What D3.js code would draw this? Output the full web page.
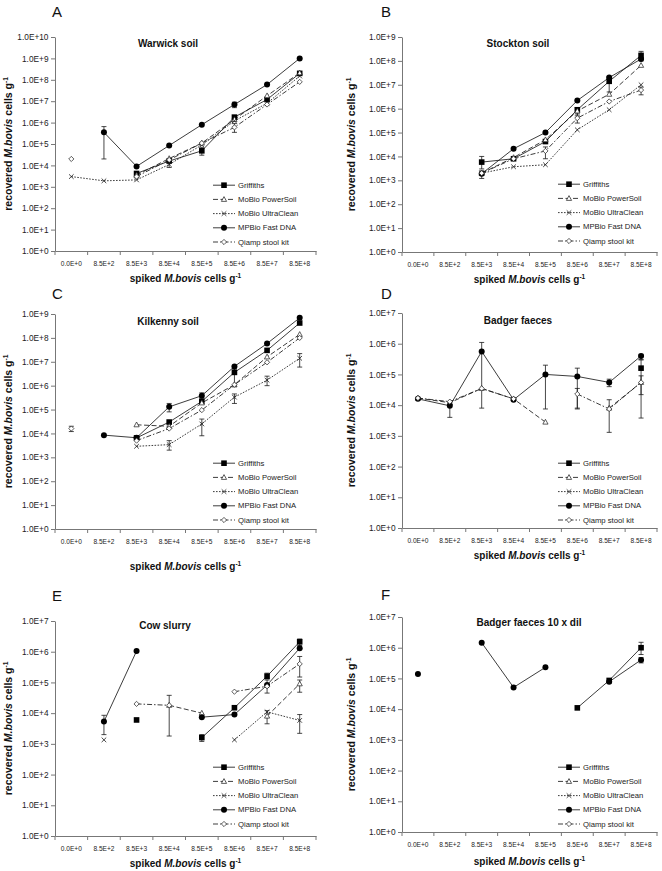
<!DOCTYPE html>
<html>
<head>
<meta charset="utf-8">
<script src="https://cdn.jsdelivr.net/npm/d3@7"></script>
<style>
  body { margin: 0; background: #fff; }
  svg { display: block; font-family: "Liberation Sans", Arial, sans-serif; }
</style>
</head>
<body>
<svg width="662" height="871"></svg>
<script>
// spiked amounts on the x axis (categories)
var categories = ['0.0E+0', '8.5E+2', '8.5E+3', '8.5E+4', '8.5E+5', '8.5E+6', '8.5E+7', '8.5E+8']
var seriesNames = ['Griffiths', 'MoBio PowerSoil', 'MoBio UltraClean', 'MPBio Fast DNA', 'Qiamp stool kit']

// A - Warwick soil
var warwickGriffiths = [null, null, 4.2e3, 1.6e4, 4.8e4, 1.8e6, 1.2e7, 2.0e8]
var warwickPowerSoil = [null, null, 3.5e3, 2.1e4, 1.1e5, 1.4e6, 1.8e7, 2.1e8]
var warwickUltraClean = [3.0e3, 1.9e3, 2.1e3, 1.1e4, 9.0e4, 1.2e6, 8.0e6, 1.5e8]
var warwickFastDNA = [null, 3.5e5, 9.0e3, 8.5e4, 8.0e5, 7.0e6, 6.0e7, 1.0e9]
var warwickQiamp = [2.0e4, null, 3.0e3, 1.8e4, 1.1e5, 6.0e5, 7.0e6, 8.0e7]
// error bars: [series, category, low, high]
var warwickErr = [[3, 1, 2e4, 6.5e5], [0, 4, 3e4, 7e4], [4, 5, 3.5e5, 9e5], [3, 5, 5e6, 9e6], [2, 3, 8e3, 1.4e4]]

// B - Stockton soil
var stocktonGriffiths = [null, null, 5.8e3, 8.0e3, 4.2e4, 9.0e5, 1.4e7, 1.7e8]
var stocktonPowerSoil = [null, null, 2.0e3, 9.0e3, 5.0e4, 8.0e5, 4.0e6, 6.5e7]
var stocktonUltraClean = [null, null, 2.0e3, 3.7e3, 4.5e3, 1.3e5, 9.0e5, 1.0e7]
var stocktonFastDNA = [null, null, 1.9e3, 2.1e4, 1.0e5, 2.2e6, 2.0e7, 1.2e8]
var stocktonQiamp = [null, null, 2.0e3, 8.0e3, 1.7e4, 4.0e5, 2.0e6, 6.0e6]
var stocktonErr = [[0, 2, 3e3, 1e4], [3, 2, 1.2e3, 2.5e3], [4, 4, 8e3, 2.5e4], [4, 5, 2.5e5, 6e5],
  [1, 5, 5e5, 1.1e6], [0, 6, 5e6, 2.2e7], [0, 7, 1e8, 2.5e8], [4, 7, 3.8e6, 8e6]]

// C - Kilkenny soil
var kilkennyGriffiths = [null, null, 6.5e3, 3.0e4, 2.2e5, 3.6e6, 3.0e7, 4.2e8]
var kilkennyPowerSoil = [null, null, 2.3e4, 2.0e4, 1.9e5, 1.1e6, 1.6e7, 1.4e8]
var kilkennyUltraClean = [null, null, 2.9e3, 3.4e3, 2.5e4, 3.3e5, 1.7e6, 1.4e7]
var kilkennyFastDNA = [null, 8.5e3, 6.6e3, 1.3e5, 3.8e5, 6.4e6, 5.8e7, 6.9e8]
var kilkennyQiamp = [1.6e4, null, 5.0e3, 1.6e4, 9.5e4, 1.1e6, 9.5e6, 1.0e8]
var kilkennyErr = [[4, 0, 1.2e4, 2e4], [2, 3, 2e3, 5e3], [3, 3, 8e4, 1.8e5], [2, 4, 8e3, 4e4],
  [3, 4, 3e5, 5e5], [2, 5, 1.8e5, 4.5e5], [0, 5, 9e5, 5e6], [2, 6, 1e6, 2.5e6], [2, 7, 6e6, 2.2e7]]

// D - Badger faeces
var badgerGriffiths = [null, null, null, null, null, null, null, 1.6e5]
var badgerPowerSoil = [1.7e4, 1.2e4, 3.5e4, 1.6e4, 2.8e3, null, 8.0e3, 5.5e4]
var badgerUltraClean = [null, null, null, null, null, null, null, null]
var badgerFastDNA = [1.6e4, 9.5e3, 5.6e5, 1.5e4, 1.0e5, 8.6e4, 5.5e4, 4.0e5]
var badgerQiamp = [1.7e4, 1.3e4, 3.5e4, 1.6e4, null, 2.3e4, 7.5e3, 5.5e4]
var badgerErr = [[3, 1, 4e3, 1.2e4], [3, 2, 8e3, 1.1e6], [3, 4, 7.5e3, 2e5], [3, 5, 7.5e3, 1.6e5],
  [4, 5, 8e3, 3.5e4], [3, 6, 4e4, 7e4], [4, 6, 1.3e3, 1.5e4], [3, 7, 3e5, 4.5e5],
  [0, 7, 2.2e4, 3e5], [4, 7, 3.8e3, 9e4]]

// E - Cow slurry
var cowGriffiths = [null, null, 6.0e3, null, 1.6e3, 1.5e4, 1.6e5, 2.1e6]
var cowPowerSoil = [null, null, null, 1.8e4, 1.0e4, null, 8.0e3, 9.0e4]
var cowUltraClean = [null, 1.35e3, null, null, null, 1.35e3, 1.1e4, 5.8e3]
var cowFastDNA = [null, 5.3e3, 1.05e6, null, 7.4e3, 9.0e3, 8.2e4, 1.3e6]
var cowQiamp = [null, null, 2.0e4, 1.8e4, null, 5.0e4, 7.5e4, 4.0e5]
var cowErr = [[3, 1, 2e3, 8.5e3], [4, 3, 1.8e3, 3.8e4], [0, 4, 1.2e3, 2e3], [0, 6, 1.3e5, 2e5],
  [3, 6, 4.5e4, 1.2e5], [1, 6, 4.5e3, 1.2e4], [0, 7, 1.6e6, 2.6e6], [4, 7, 1.5e5, 7e5],
  [1, 7, 4.8e4, 1.2e5], [2, 7, 2.2e3, 9e3]]

// F - Badger faeces 10 x dil
var dilGriffiths = [null, null, null, null, null, 1.1e4, 8.6e4, 1.0e6]
var dilPowerSoil = [null, null, null, null, null, null, null, null]
var dilUltraClean = [null, null, null, null, null, null, null, null]
var dilFastDNA = [1.4e5, null, 1.45e6, 5.1e4, 2.3e5, null, 7.8e4, 4.0e5]
var dilQiamp = [null, null, null, null, null, null, null, null]
var dilErr = [[0, 7, 6e5, 1.5e6], [3, 7, 3.2e5, 4.8e5]]

var svg = d3.select('svg')

var panels = [
  {letter: 'A', title: 'Warwick soil', err: warwickErr, maxExp: 10,
    series: [warwickGriffiths, warwickPowerSoil, warwickUltraClean, warwickFastDNA, warwickQiamp],
    x0: 55, x1: 316, y0: 37, y1: 251, lx: 52, ly: 17, tx: 168, ty: 47, xt: 31, legX: 213, legY: 242},
  {letter: 'B', title: 'Stockton soil', err: stocktonErr, maxExp: 9,
    series: [stocktonGriffiths, stocktonPowerSoil, stocktonUltraClean, stocktonFastDNA, stocktonQiamp],
    x0: 402, x1: 657, y0: 37, y1: 252, lx: 381, ly: 17, tx: 518, ty: 47, xt: 31, legX: 558, legY: 241},
  {letter: 'C', title: 'Kilkenny soil', err: kilkennyErr, maxExp: 9,
    series: [kilkennyGriffiths, kilkennyPowerSoil, kilkennyUltraClean, kilkennyFastDNA, kilkennyQiamp],
    x0: 55, x1: 316, y0: 314, y1: 529, lx: 52, ly: 299, tx: 168, ty: 325, xt: 41, legX: 213, legY: 520},
  {letter: 'D', title: 'Badger faeces', err: badgerErr, maxExp: 7,
    series: [badgerGriffiths, badgerPowerSoil, badgerUltraClean, badgerFastDNA, badgerQiamp],
    x0: 402, x1: 657, y0: 313, y1: 528, lx: 381, ly: 299, tx: 518, ty: 324, xt: 31, legX: 558, legY: 520},
  {letter: 'E', title: 'Cow slurry', err: cowErr, maxExp: 7,
    series: [cowGriffiths, cowPowerSoil, cowUltraClean, cowFastDNA, cowQiamp],
    x0: 55, x1: 316, y0: 621, y1: 836, lx: 52, ly: 601, tx: 165, ty: 629, xt: 31, legX: 213, legY: 824},
  {letter: 'F', title: 'Badger faeces 10 x dil', err: dilErr, maxExp: 7,
    series: [dilGriffiths, dilPowerSoil, dilUltraClean, dilFastDNA, dilQiamp],
    x0: 402, x1: 657, y0: 617, y1: 832, lx: 381, ly: 600, tx: 529, ty: 626, xt: 33, legX: 558, legY: 824}
]

var styles = [
  {dash: null, marker: 'square'},
  {dash: '5,2.5', marker: 'triangle'},
  {dash: '1.6,1.4', marker: 'cross'},
  {dash: null, marker: 'circle'},
  {dash: '5,2,1.5,2', marker: 'diamond'}
]

var ink = '#1a1a1a'

function marker (g, type, cx, cy) {
  if (type === 'square') {
    g.append('rect').attr('x', cx - 2.8).attr('y', cy - 2.8).attr('width', 5.6).attr('height', 5.6)
      .attr('fill', '#000')
  } else if (type === 'circle') {
    g.append('circle').attr('cx', cx).attr('cy', cy).attr('r', 3).attr('fill', '#000')
  } else if (type === 'triangle') {
    g.append('path').attr('d', 'M' + cx + ',' + (cy - 2.8) + 'L' + (cx + 2.6) + ',' + (cy + 2) + 'L' + (cx - 2.6) + ',' + (cy + 2) + 'Z')
      .attr('fill', '#fff').attr('stroke', ink).attr('stroke-width', 0.7)
  } else if (type === 'diamond') {
    g.append('path').attr('d', 'M' + cx + ',' + (cy - 2.6) + 'L' + (cx + 2.6) + ',' + cy + 'L' + cx + ',' + (cy + 2.6) + 'L' + (cx - 2.6) + ',' + cy + 'Z')
      .attr('fill', '#fff').attr('stroke', ink).attr('stroke-width', 0.7)
  } else if (type === 'cross') {
    g.append('path').attr('d', 'M' + (cx - 2.3) + ',' + (cy - 2.3) + 'L' + (cx + 2.3) + ',' + (cy + 2.3) +
      'M' + (cx + 2.3) + ',' + (cy - 2.3) + 'L' + (cx - 2.3) + ',' + (cy + 2.3))
      .attr('fill', 'none').attr('stroke', ink).attr('stroke-width', 0.8)
  }
}

function unitTitle (text, pre) {
  text.append('tspan').text(pre)
  text.append('tspan').attr('font-style', 'italic').text('M.bovis')
  text.append('tspan').text(' cells g')
  text.append('tspan').attr('font-size', '6.5px').attr('dy', -4).text('-1')
}

panels.forEach(function (p) {
  var g = svg.append('g')

  var x = d3.scaleBand().domain(categories).range([p.x0, p.x1])
  var y = d3.scaleLog().domain([1, Math.pow(10, p.maxExp)]).range([p.y1, p.y0])
  var cx = function (i) { return x(categories[i]) + x.bandwidth() / 2 }

  // y axis
  var yAxis = d3.axisLeft(y)
    .tickValues(d3.range(0, p.maxExp + 1).map(function (e) { return Math.pow(10, e) }))
    .tickFormat(function (d) { return '1.0E+' + Math.round(Math.log10(d)) })
    .tickSize(4).tickSizeOuter(0).tickPadding(2.5)
  var ya = g.append('g').attr('transform', 'translate(' + p.x0 + ',0)').call(yAxis)
  ya.attr('font-family', null).attr('font-size', '8.3px')
  ya.selectAll('text').attr('fill', '#222')

  // x axis
  var xAxis = d3.axisBottom(x).tickSize(0).tickSizeOuter(0).tickPadding(10)
  var xa = g.append('g').attr('transform', 'translate(0,' + p.y1 + ')').call(xAxis)
  xa.attr('font-family', null).attr('font-size', '6.6px')
  xa.selectAll('text').attr('fill', '#222')
  xa.selectAll('.bound').data(d3.range(categories.length + 1)).enter().append('line')
    .attr('x1', function (i) { return p.x0 + i * x.step() })
    .attr('x2', function (i) { return p.x0 + i * x.step() })
    .attr('y1', 0).attr('y2', 4)
  g.selectAll('.domain, line').attr('stroke', '#777')

  // titles
  g.append('text').attr('x', p.lx).attr('y', p.ly).attr('font-size', '15px').attr('fill', '#111').text(p.letter)
  g.append('text').attr('x', p.tx).attr('y', p.ty).attr('text-anchor', 'middle')
    .attr('font-size', '10px').attr('font-weight', 'bold').attr('fill', '#111').text(p.title)

  var xt = g.append('text').attr('x', (p.x0 + p.x1) / 2).attr('y', p.y1 + p.xt)
    .attr('text-anchor', 'middle').attr('font-size', '10px').attr('font-weight', 'bold').attr('fill', '#111')
  unitTitle(xt, 'spiked ')

  var yx = p.x0 < 200 ? 12 : 355
  var yt = g.append('text').attr('transform', 'translate(' + yx + ',' + ((p.y0 + p.y1) / 2) + ') rotate(-90)')
    .attr('text-anchor', 'middle').attr('font-size', '10.5px').attr('font-weight', 'bold').attr('fill', '#111')
  unitTitle(yt, 'recovered ')

  // series lines
  var line = d3.line()
    .defined(function (d) { return d != null })
    .x(function (d, i) { return cx(i) })
    .y(function (d) { return y(d) })

  p.series.forEach(function (vals, s) {
    g.append('path').datum(vals).attr('d', line)
      .attr('fill', 'none').attr('stroke', ink).attr('stroke-width', 0.85)
      .attr('stroke-dasharray', styles[s].dash)
  })

  // error bars
  p.err.forEach(function (e) {
    var ex = cx(e[1])
    var eg = g.append('g').attr('stroke', ink).attr('stroke-width', 0.8)
    eg.append('line').attr('x1', ex).attr('x2', ex).attr('y1', y(e[2])).attr('y2', y(e[3]))
    eg.append('line').attr('x1', ex - 2.5).attr('x2', ex + 2.5).attr('y1', y(e[2])).attr('y2', y(e[2]))
    eg.append('line').attr('x1', ex - 2.5).attr('x2', ex + 2.5).attr('y1', y(e[3])).attr('y2', y(e[3]))
  })

  // markers
  p.series.forEach(function (vals, s) {
    vals.forEach(function (v, i) {
      if (v != null) marker(g, styles[s].marker, cx(i), y(v))
    })
  })

  // legend
  seriesNames.forEach(function (name, s) {
    var ly = p.legY - (4 - s) * 14.2
    g.append('line').attr('x1', p.legX).attr('x2', p.legX + 22).attr('y1', ly).attr('y2', ly)
      .attr('stroke', ink).attr('stroke-width', 0.85).attr('stroke-dasharray', styles[s].dash)
    marker(g, styles[s].marker, p.legX + 11, ly)
    g.append('text').attr('x', p.legX + 25).attr('y', ly).attr('dy', '0.35em')
      .attr('font-size', '7.7px').attr('fill', '#222').text(name)
  })
})
</script>
</body>
</html>
